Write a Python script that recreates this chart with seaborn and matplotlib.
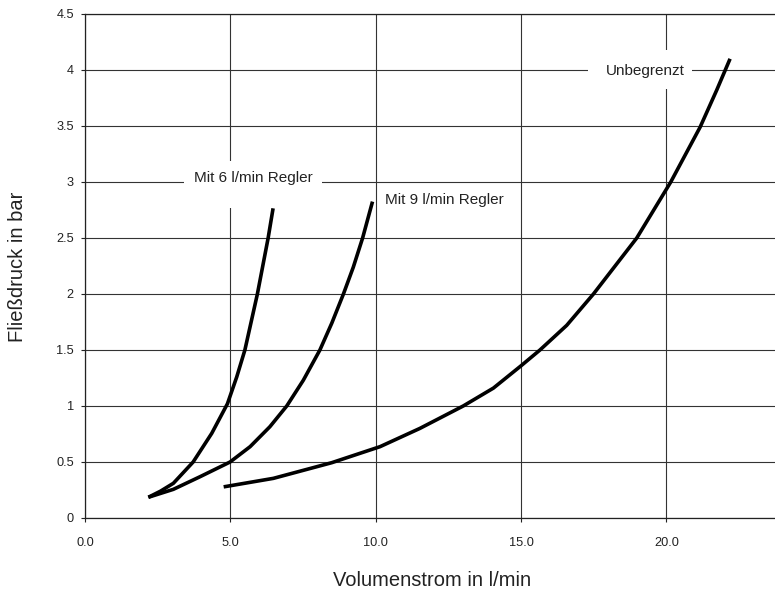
import matplotlib
matplotlib.use("Agg")
import matplotlib.pyplot as plt
from matplotlib.patches import Rectangle
import seaborn as sns
import pandas as pd

# ---- data ----
mit6_x = [2.18, 2.6, 3.04, 3.72, 4.36, 4.90, 5.22, 5.50, 5.93, 6.30, 6.47]
mit6_y = [0.185, 0.24, 0.31, 0.5, 0.756, 1.02, 1.26, 1.5, 2.0, 2.5, 2.765]

mit9_x = [2.18, 3.04, 3.96, 4.99, 5.68, 6.36, 6.94, 7.51, 8.08, 8.49, 8.89, 9.23, 9.55, 9.89]
mit9_y = [0.185, 0.256, 0.369, 0.5, 0.637, 0.815, 1.0, 1.23, 1.5, 1.74, 2.0, 2.24, 2.5, 2.825]

unb_x = [4.77, 6.48, 8.49, 10.15, 11.52, 13.01, 14.05, 14.99, 15.65, 16.57, 17.49,
         18.98, 20.15, 21.16, 21.73, 22.19]
unb_y = [0.278, 0.354, 0.494, 0.637, 0.80, 1.0, 1.16, 1.357, 1.5, 1.72, 2.0,
         2.5, 3.0, 3.49, 3.82, 4.1]

series_names = ["Mit 6 l/min Regler", "Mit 9 l/min Regler", "Unbegrenzt"]

x_ticks = [0.0, 5.0, 10.0, 15.0, 20.0]
x_tick_labels = ["0.0", "5.0", "10.0", "15.0", "20.0"]
y_ticks = [0, 0.5, 1, 1.5, 2, 2.5, 3, 3.5, 4, 4.5]
y_tick_labels = ["0", "0.5", "1", "1.5", "2", "2.5", "3", "3.5", "4", "4.5"]

x_label = "Volumenstrom in l/min"
y_label = "Fließdruck in bar"

# ---- build long table ----
frames = []
for name, xs, ys in zip(series_names, [mit6_x, mit9_x, unb_x], [mit6_y, mit9_y, unb_y]):
    frames.append(pd.DataFrame({"x": xs, "y": ys, "series": name}))
df = pd.concat(frames, ignore_index=True)

sns.set_theme(style="white")
plt.rcParams["font.family"] = ["Liberation Sans", "DejaVu Sans"]
txt = "#222222"

W, H = 775, 592
fig = plt.figure(figsize=(W / 100, H / 100), dpi=100)
left, right, top, bottom = 85, 775, 14, 518
ax = fig.add_axes([left / W, (H - bottom) / H, (right - left) / W, (bottom - top) / H])

for name in series_names:
    sub = df[df["series"] == name]
    sns.lineplot(data=sub, x="x", y="y", ax=ax, color="black", linewidth=2.6,
                 sort=False, estimator=None, legend=False, zorder=5,
                 solid_joinstyle="round", solid_capstyle="butt")

ax.set_xlim(0, (right - left) / 29.07)
ax.set_ylim(0, 4.5)
ax.set_xticks(x_ticks)
ax.set_xticklabels(x_tick_labels)
ax.set_yticks(y_ticks)
ax.set_yticklabels(y_tick_labels)
ax.set_xlabel("")
ax.set_ylabel("")

ax.grid(True, color="#333333", linewidth=0.8)
ax.set_axisbelow(True)
for side in ["left", "bottom", "top"]:
    ax.spines[side].set_color("#222222")
    ax.spines[side].set_linewidth(0.9)
ax.spines["right"].set_visible(False)

ax.tick_params(axis="both", which="major", direction="out", length=3, width=0.8,
               color="#222222", labelsize=9.2, labelcolor=txt, left=True, bottom=True)
ax.tick_params(axis="x", pad=11)
ax.tick_params(axis="y", pad=5)

# label boxes that mask the grid
ax.add_patch(Rectangle((3.41, 2.77), 4.74, 0.42, facecolor="white", edgecolor="none", zorder=3))
ax.add_patch(Rectangle((17.30, 3.83), 3.58, 0.35, facecolor="white", edgecolor="none", zorder=3))

ax.text(5.79, 3.036, series_names[0], ha="center", va="center", fontsize=11, color=txt, zorder=6)
ax.text(10.32, 2.84, series_names[1], ha="left", va="center", fontsize=11, color=txt, zorder=6)
ax.text(19.26, 3.99, series_names[2], ha="center", va="center", fontsize=11, color=txt, zorder=6)

fig.text(18 / W, 1 - 267 / H, y_label, rotation=90, ha="center", va="center", fontsize=14.5, color=txt)
fig.text(432 / W, 1 - 580 / H, x_label, ha="center", va="center", fontsize=14.5, color=txt)

fig.savefig("out.png", dpi=100)
